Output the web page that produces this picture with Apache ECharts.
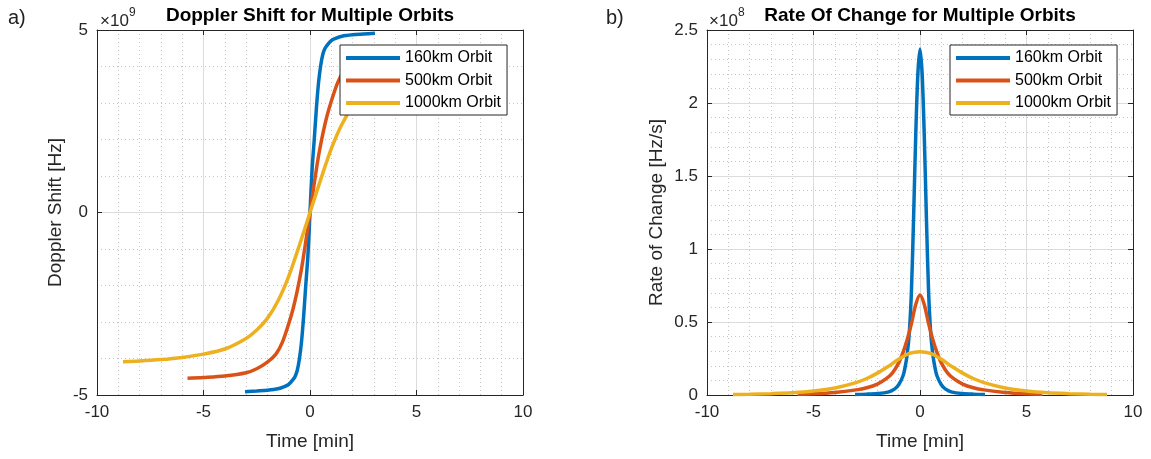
<!DOCTYPE html>
<html>
<head>
<meta charset="utf-8">
<script src="https://cdn.jsdelivr.net/npm/echarts@6.0.0/dist/echarts.min.js"></script>
<style>
  html, body { margin: 0; padding: 0; background: #fff; }
  #chart { width: 1151px; height: 459px; }
</style>
</head>
<body>
<div id="chart"></div>
<script>
// time in minutes, doppler in 1e9 Hz, rate of change in 1e8 Hz/s
const seriesNames = ['160km Orbit', '500km Orbit', '1000km Orbit'];
const seriesColors = ['#0072BD', '#D95319', '#EDB120'];

const blueTime = [-3.05, -2.5, -2, -1.5, -1.2, -1, -0.8, -0.7, -0.6, -0.5, -0.4, -0.3, -0.2, -0.1, 0,
  0.1, 0.2, 0.3, 0.4, 0.5, 0.6, 0.7, 0.8, 1, 1.2, 1.5, 2, 2.5, 3.05];
const blueDopplerE9 = [-4.91, -4.89, -4.87, -4.83, -4.77, -4.71, -4.58, -4.49, -4.33, -4.02, -3.55, -2.85, -2.0, -1.2, 0,
  1.2, 2.0, 2.85, 3.55, 4.02, 4.33, 4.49, 4.58, 4.71, 4.77, 4.83, 4.87, 4.89, 4.91];
const blueRateE8 = [0.004, 0.006, 0.01, 0.02, 0.04, 0.07, 0.13, 0.19, 0.28, 0.43, 0.72, 1.22, 1.78, 2.2, 2.37,
  2.2, 1.78, 1.22, 0.72, 0.43, 0.28, 0.19, 0.13, 0.07, 0.04, 0.02, 0.01, 0.006, 0.004];

const orangeTime = [-5.75, -5, -4, -3, -2.5, -2, -1.6, -1.3, -1, -0.8, -0.6, -0.4, -0.2, 0,
  0.2, 0.4, 0.6, 0.8, 1, 1.3, 1.6, 2, 2.5, 3, 4, 5, 5.75];
const orangeDopplerE9 = [-4.54, -4.52, -4.48, -4.39, -4.28, -4.1, -3.88, -3.56, -3.05, -2.65, -2.15, -1.55, -0.8, 0,
  0.8, 1.55, 2.15, 2.65, 3.05, 3.56, 3.88, 4.1, 4.28, 4.39, 4.48, 4.52, 4.54];
const orangeRateE8 = [0.005, 0.008, 0.017, 0.035, 0.05, 0.075, 0.11, 0.15, 0.22, 0.29, 0.38, 0.49, 0.62, 0.685,
  0.62, 0.49, 0.38, 0.29, 0.22, 0.15, 0.11, 0.075, 0.05, 0.035, 0.017, 0.008, 0.005];

const yellowTime = [-8.78, -8, -7, -6, -5, -4, -3, -2.5, -2, -1.5, -1, -0.5, 0,
  0.5, 1, 1.5, 2, 2.5, 3, 4, 5, 6, 7, 8, 8.78];
const yellowDopplerE9 = [-4.09, -4.07, -4.03, -3.97, -3.88, -3.74, -3.45, -3.22, -2.9, -2.42, -1.75, -0.9, 0,
  0.9, 1.75, 2.42, 2.9, 3.22, 3.45, 3.74, 3.88, 3.97, 4.03, 4.07, 4.09];
const yellowRateE8 = [0.003, 0.005, 0.009, 0.015, 0.027, 0.048, 0.085, 0.113, 0.15, 0.195, 0.245, 0.285, 0.297,
  0.285, 0.245, 0.195, 0.15, 0.113, 0.085, 0.048, 0.027, 0.015, 0.009, 0.005, 0.003];

const FONT = '"Liberation Sans", Arial, Helvetica, sans-serif';
const AXIS_COLOR = '#262626';

const chart = echarts.init(document.getElementById('chart'));

function pairs(xs, ys) {
  return xs.map((x, i) => [x, ys[i]]);
}

function mainAxis(gridIndex, position, min, max, interval, extra) {
  return Object.assign({
    type: 'value',
    gridIndex: gridIndex,
    position: position,
    min: min,
    max: max,
    interval: interval,
    axisLine: { show: true, onZero: false, lineStyle: { color: AXIS_COLOR, width: 1 } },
    axisTick: { show: true, inside: true, length: 5, lineStyle: { color: AXIS_COLOR } },
    axisLabel: { show: true, color: AXIS_COLOR, fontSize: 17, fontFamily: FONT, margin: 9 },
    minorTick: { show: false, splitNumber: 5 },
    splitLine: { show: true, lineStyle: { color: '#dcdcdc', width: 1 } },
    minorSplitLine: { show: true, lineStyle: { color: '#c4c4c4', width: 1, type: [1, 3] } },
    nameTextStyle: { color: AXIS_COLOR, fontSize: 19, fontFamily: FONT }
  }, extra || {});
}

function frameAxis(gridIndex, position, min, max, interval) {
  return {
    type: 'value',
    gridIndex: gridIndex,
    position: position,
    min: min,
    max: max,
    interval: interval,
    axisLine: { show: true, onZero: false, lineStyle: { color: AXIS_COLOR, width: 1 } },
    axisTick: { show: true, inside: true, length: 5, lineStyle: { color: AXIS_COLOR } },
    axisLabel: { show: false },
    splitLine: { show: false }
  };
}

function lineSeries(name, color, xIdx, yIdx, data) {
  return {
    name: name,
    type: 'line',
    xAxisIndex: xIdx,
    yAxisIndex: yIdx,
    data: data,
    showSymbol: false,
    smooth: 0.3,
    lineStyle: { color: color, width: 3.5 },
    itemStyle: { color: color },
    animation: false
  };
}

function legendAt(left) {
  return {
    orient: 'vertical',
    left: left,
    top: 45,
    width: 167,
    padding: [4, 6, 3, 6],
    itemGap: 4.5,
    itemWidth: 54,
    itemHeight: 4,
    icon: 'rect',
    selectedMode: false,
    backgroundColor: '#ffffff',
    borderColor: AXIS_COLOR,
    borderWidth: 1,
    z: 10,
    data: seriesNames,
    textStyle: { color: '#000', fontSize: 16, fontFamily: FONT, lineHeight: 18, padding: [0, 0, 0, 0] }
  };
}

const option = {
  animation: false,
  backgroundColor: '#ffffff',
  grid: [
    { left: 97, top: 30, width: 426, height: 365 },
    { left: 707, top: 30, width: 426, height: 365 }
  ],
  xAxis: [
    mainAxis(0, 'bottom', -10, 10, 5, { name: 'Time [min]', nameLocation: 'middle', nameGap: 37 }),
    frameAxis(0, 'top', -10, 10, 5),
    mainAxis(1, 'bottom', -10, 10, 5, { name: 'Time [min]', nameLocation: 'middle', nameGap: 37 }),
    frameAxis(1, 'top', -10, 10, 5)
  ],
  yAxis: [
    mainAxis(0, 'left', -5, 5, 5, { name: 'Doppler Shift [Hz]', nameLocation: 'middle', nameGap: 32 }),
    frameAxis(0, 'right', -5, 5, 5),
    mainAxis(1, 'left', 0, 2.5, 0.5, { name: 'Rate of Change [Hz/s]', nameLocation: 'middle', nameGap: 41 }),
    frameAxis(1, 'right', 0, 2.5, 0.5)
  ],
  legend: [legendAt(340), legendAt(950)],
  series: [
    lineSeries(seriesNames[0], seriesColors[0], 0, 0, pairs(blueTime, blueDopplerE9)),
    lineSeries(seriesNames[1], seriesColors[1], 0, 0, pairs(orangeTime, orangeDopplerE9)),
    lineSeries(seriesNames[2], seriesColors[2], 0, 0, pairs(yellowTime, yellowDopplerE9)),
    lineSeries(seriesNames[0], seriesColors[0], 2, 2, pairs(blueTime, blueRateE8)),
    lineSeries(seriesNames[1], seriesColors[1], 2, 2, pairs(orangeTime, orangeRateE8)),
    lineSeries(seriesNames[2], seriesColors[2], 2, 2, pairs(yellowTime, yellowRateE8))
  ],
  graphic: [
    { type: 'text', x: 310, y: 16, style: { text: 'Doppler Shift for Multiple Orbits', font: 'bold 19px ' + FONT, fill: '#000', align: 'center', verticalAlign: 'middle' } },
    { type: 'text', x: 920, y: 16, style: { text: 'Rate Of Change for Multiple Orbits', font: 'bold 19px ' + FONT, fill: '#000', align: 'center', verticalAlign: 'middle' } },
    { type: 'text', x: 8, y: 18, style: { text: 'a)', font: '20px ' + FONT, fill: '#222', align: 'left', verticalAlign: 'middle' } },
    { type: 'text', x: 606, y: 18, style: { text: 'b)', font: '20px ' + FONT, fill: '#222', align: 'left', verticalAlign: 'middle' } },
    { type: 'text', x: 100, y: 21, style: { text: '×10', font: '17px ' + FONT, fill: AXIS_COLOR, align: 'left', verticalAlign: 'middle' } },
    { type: 'text', x: 129, y: 13, style: { text: '9', font: '12px ' + FONT, fill: AXIS_COLOR, align: 'left', verticalAlign: 'middle' } },
    { type: 'text', x: 709, y: 21, style: { text: '×10', font: '17px ' + FONT, fill: AXIS_COLOR, align: 'left', verticalAlign: 'middle' } },
    { type: 'text', x: 738, y: 13, style: { text: '8', font: '12px ' + FONT, fill: AXIS_COLOR, align: 'left', verticalAlign: 'middle' } }
  ]
};

chart.setOption(option);
</script>
</body>
</html>
